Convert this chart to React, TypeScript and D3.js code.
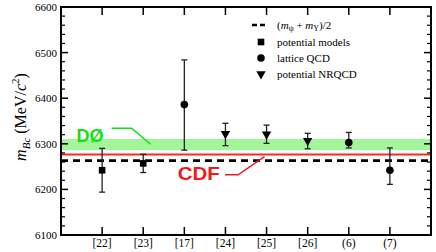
import React from "react";
import * as d3 from "d3";

const categories = ["[22]", "[23]", "[17]", "[24]", "[25]", "[26]", "(6)", "(7)"];
const methods = ["potential", "potential", "lattice", "nrqcd", "nrqcd", "nrqcd", "lattice", "lattice"];
const masses = [6242, 6257, 6386, 6322, 6321, 6307, 6303, 6242];
const upper = [6290, 6277, 6484, 6345, 6341, 6323, 6325, 6291];
const lower = [6194, 6237, 6286, 6296, 6301, 6289, 6291, 6211];
const yMajorTicks = [6100, 6200, 6300, 6400, 6500, 6600];
const d0Band = [6286, 6310.5];
const cdfBand = [6273, 6280];
const averageLine = 6263;
const legendItems = ["(m_ψ + m_Υ)/2", "potential models", "lattice QCD", "potential NRQCD"];

const W = 436, H = 252;
const M = { left: 61, right: 5, top: 7, bottom: 17 };

const SERIF = "'Liberation Serif', 'Times New Roman', serif";
const SANS = "'Liberation Sans', Arial, sans-serif";

function Marker({ kind, x, y }: { kind: string; x: number; y: number }) {
  if (kind === "potential") return <rect x={x - 3.3} y={y - 3.3} width={6.6} height={6.6} fill="#000" />;
  if (kind === "lattice") return <circle cx={x} cy={y} r={3.8} fill="#000" />;
  return <path d={d3.symbol(d3.symbolTriangle, 38)()!} transform={`translate(${x},${y}) rotate(180)`} fill="#000" />;
}

export default function App() {
  const x = d3.scaleLinear().domain([0, categories.length + 1]).range([M.left, W - M.right]);
  const y = d3.scaleLinear().domain([6100, 6600]).range([H - M.bottom, M.top]);
  const x0 = x.range()[0], x1 = x.range()[1];
  const yb = y.range()[0], yt = y.range()[1];
  const minorTicks = d3.range(6100, 6601, 20).filter((v) => v % 100 !== 0);

  const greenLine = d3.line<[number, number]>()
    .x((d) => x(d[0])).y((d) => y(d[1]))([[1.23, 6334], [1.72, 6334], [2.18, 6299]]);
  const redLine = d3.line<[number, number]>()
    .x((d) => x(d[0])).y((d) => y(d[1]))([[3.99, 6232], [4.31, 6232], [4.95, 6272]]);

  return (
    <svg width={W} height={H} style={{ position: "absolute", left: 0, top: 0, display: "block", background: "#fff" }}>
      {/* bands */}
      <rect x={x0} width={x1 - x0} y={y(d0Band[1])} height={y(d0Band[0]) - y(d0Band[1])} fill="#a3f59a" />
      <rect x={x0} width={x1 - x0} y={y(cdfBand[1])} height={y(cdfBand[0]) - y(cdfBand[1])} fill="#f79a9a" />
      <line x1={x0} x2={x1} y1={y((cdfBand[0] + cdfBand[1]) / 2)} y2={y((cdfBand[0] + cdfBand[1]) / 2)} stroke="#ff2020" strokeWidth={1} />
      {/* average dashed line */}
      <line x1={x0} x2={x1} y1={y(averageLine)} y2={y(averageLine)} stroke="#000" strokeWidth={2.6} strokeDasharray="7,5" />

      {/* annotations */}
      <text x={x(0.38)} y={y(6304)} fontFamily={SANS} fontWeight="bold" fontSize={18} fill="#11e011">DØ</text>
      <path d={greenLine!} fill="none" stroke="#11e011" strokeWidth={1.5} />
      <text x={x(2.84)} y={y(6220)} fontFamily={SANS} fontWeight="bold" fontSize={18} fill="#f01820" textLength={42} lengthAdjust="spacingAndGlyphs">CDF</text>
      <path d={redLine!} fill="none" stroke="#f01820" strokeWidth={1.5} />

      {/* error bars and points */}
      {categories.map((c, i) => {
        const cx = x(i + 1);
        return (
          <g key={c}>
            <line x1={cx} x2={cx} y1={y(upper[i])} y2={y(lower[i])} stroke="#222" strokeWidth={1.3} />
            <line x1={cx - 3} x2={cx + 3} y1={y(upper[i])} y2={y(upper[i])} stroke="#222" strokeWidth={1.3} />
            <line x1={cx - 3} x2={cx + 3} y1={y(lower[i])} y2={y(lower[i])} stroke="#222" strokeWidth={1.3} />
            <Marker kind={methods[i]} x={cx} y={y(masses[i])} />
          </g>
        );
      })}

      {/* ticks */}
      {yMajorTicks.map((v) => (
        <g key={v}>
          <line x1={x0} x2={x0 + 7} y1={y(v)} y2={y(v)} stroke="#000" strokeWidth={1.5} />
          <line x1={x1} x2={x1 - 7} y1={y(v)} y2={y(v)} stroke="#000" strokeWidth={1.5} />
          <text x={x0 - 4} y={y(v) + 4} textAnchor="end" fontFamily={SERIF} fontSize={11}>{v}</text>
        </g>
      ))}
      {minorTicks.map((v) => (
        <g key={v}>
          <line x1={x0} x2={x0 + 4} y1={y(v)} y2={y(v)} stroke="#000" strokeWidth={1.2} />
          <line x1={x1} x2={x1 - 4} y1={y(v)} y2={y(v)} stroke="#000" strokeWidth={1.2} />
        </g>
      ))}
      {categories.map((c, i) => (
        <g key={c}>
          <line x1={x(i + 1)} x2={x(i + 1)} y1={yb} y2={yb - 8} stroke="#000" strokeWidth={1.5} />
          <line x1={x(i + 1)} x2={x(i + 1)} y1={yt} y2={yt + 8} stroke="#000" strokeWidth={1.5} />
          <text x={x(i + 1)} y={yb + 12} textAnchor="middle" fontFamily={SERIF} fontSize={11.5}>{c}</text>
        </g>
      ))}

      {/* frame */}
      <rect x={x0} y={yt} width={x1 - x0} height={yb - yt} fill="none" stroke="#000" strokeWidth={2} />

      {/* y label */}
      <text transform={`translate(26,${(yt + yb) / 2 - 4}) rotate(-90)`} textAnchor="middle" fontFamily={SERIF} fontSize={16}>
        <tspan fontStyle="italic">m</tspan>
        <tspan fontStyle="italic" fontSize={11} dy={4}>Bc</tspan>
        <tspan dy={-4}> (MeV/</tspan>
        <tspan fontStyle="italic">c</tspan>
        <tspan fontSize={11} dy={-7}>2</tspan>
        <tspan dy={7}>)</tspan>
      </text>

      {/* legend */}
      <g fontFamily={SERIF} fontSize={11}>
        <line x1={252} x2={265} y1={25} y2={25} stroke="#000" strokeWidth={2.6} strokeDasharray="5,3" />
        <text x={277} y={28.5}>
          <tspan>(</tspan>
          <tspan fontStyle="italic">m</tspan>
          <tspan fontSize={8} dy={2.5}>ψ</tspan>
          <tspan dy={-2.5}> + </tspan>
          <tspan fontStyle="italic">m</tspan>
          <tspan fontSize={8} dy={2.5}>Υ</tspan>
          <tspan dy={-2.5}>)/2</tspan>
        </text>
        {legendItems.slice(1).map((t, k) => (
          <g key={t}>
            <Marker kind={["potential", "lattice", "nrqcd"][k]} x={261} y={42 + 16 * k} />
            <text x={277} y={45.5 + 16 * k}>{t}</text>
          </g>
        ))}
      </g>
    </svg>
  );
}
